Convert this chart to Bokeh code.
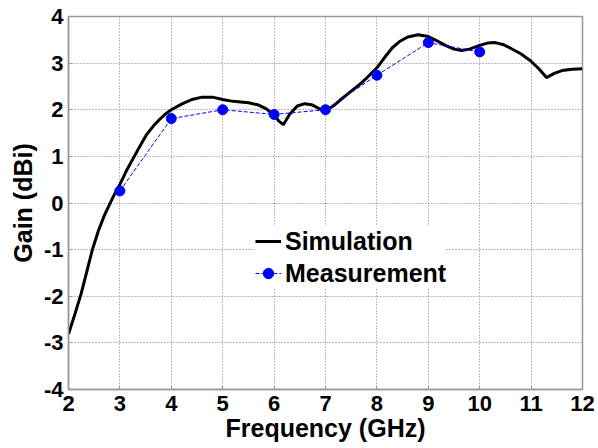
from bokeh.plotting import figure
from bokeh.models import Range1d, FixedTicker, Legend, LegendItem
from bokeh.embed import file_html
from bokeh.resources import INLINE

sim_freq = [2.0, 2.12, 2.245, 2.35, 2.46, 2.58, 2.7, 2.82, 2.9, 3.0, 3.14, 3.28,
            3.4, 3.52, 3.65, 3.78, 3.9, 4.0, 4.2, 4.4, 4.6, 4.8, 5.0, 5.2, 5.5, 5.7,
            5.85, 6.0, 6.1, 6.18, 6.3, 6.45, 6.6, 6.75, 6.9, 7.0, 7.15, 7.3, 7.5,
            7.65, 7.8, 8.0, 8.15, 8.3, 8.45, 8.6, 8.8, 9.0, 9.15, 9.33, 9.5, 9.65,
            9.8, 10.0, 10.15, 10.3, 10.45, 10.6, 10.8, 11.0, 11.15, 11.3, 11.45,
            11.6, 11.8, 12.0]
sim_gain = [-2.81, -2.4, -1.95, -1.5, -1.02, -0.6, -0.26, 0.02, 0.2, 0.4,
            0.72, 1.0, 1.24, 1.47, 1.65, 1.80, 1.92, 2.0, 2.12, 2.22, 2.27, 2.27, 2.22,
            2.18, 2.15, 2.10, 2.02, 1.88, 1.75, 1.68, 1.9, 2.08, 2.13, 2.1, 2.01, 1.98,
            2.08, 2.22, 2.4, 2.53, 2.68, 2.9, 3.12, 3.33, 3.47, 3.56, 3.61, 3.57, 3.49,
            3.38, 3.3, 3.27, 3.3, 3.38, 3.43, 3.44, 3.4, 3.32, 3.2, 3.04, 2.88, 2.69,
            2.78, 2.84, 2.87, 2.88]

meas_freq = [3, 4, 5, 6, 7, 8, 9, 10]
meas_gain = [0.26, 1.81, 2.0, 1.9, 2.0, 2.74, 3.44, 3.24]

x_ticks = [2, 3, 4, 5, 6, 7, 8, 9, 10, 11, 12]
y_ticks = [-4, -3, -2, -1, 0, 1, 2, 3, 4]
y_tick_labels = ["-4", "-3", "-2", "-1", "0", "1", "2", "3", "4"]

FONT = "Liberation Sans"

p = figure(width=598, height=448, output_backend="svg", toolbar_location=None,
           x_range=Range1d(2, 12), y_range=Range1d(-4, 4),
           min_border_left=68, min_border_right=16, min_border_top=16,
           min_border_bottom=59)
p.background_fill_color = "white"
p.border_fill_color = "white"
p.outline_line_color = "#999999"
p.outline_line_width = 1.5

for ax in (p.xaxis[0], p.yaxis[0]):
    ax.axis_line_color = "#999999"
    ax.axis_line_width = 1.5
    ax.major_tick_in = 4
    ax.major_tick_out = 0
    ax.minor_tick_in = 0
    ax.minor_tick_out = 0
    ax.major_tick_line_color = "#999999"
    ax.major_label_text_font = FONT
    ax.major_label_text_font_style = "bold"
    ax.major_label_text_font_size = "22px"
    ax.major_label_text_color = "black"
    ax.axis_label_text_font = FONT
    ax.axis_label_text_font_style = "bold"
    ax.axis_label_text_font_size = "25px"
    ax.axis_label_text_color = "black"

p.xaxis.ticker = FixedTicker(ticks=x_ticks)
p.yaxis.ticker = FixedTicker(ticks=y_ticks)
p.yaxis.major_label_overrides = {t: s for t, s in zip(y_ticks, y_tick_labels)}
p.xaxis.axis_label = "Frequency (GHz)"
p.yaxis.axis_label = "Gain (dBi)"
p.xaxis.major_label_standoff = 6
p.yaxis.major_label_standoff = 5
p.xaxis.axis_label_standoff = 0
p.yaxis.axis_label_standoff = 4

for g in (p.xgrid[0], p.ygrid[0]):
    g.grid_line_color = "#777777"
    g.grid_line_dash = "1 2"
    g.grid_line_width = 1

sim = p.line(sim_freq, sim_gain, line_color="black", line_width=3)
mline = p.line(meas_freq, meas_gain, line_color="#0000ff", line_width=1, line_dash="4 2")
mpts = p.scatter(meas_freq, meas_gain, marker="circle", size=10,
                 fill_color="#0000ff", line_color="#0000ff")

legend = Legend(items=[LegendItem(label="Simulation", renderers=[sim]),
                       LegendItem(label="Measurement", renderers=[mline, mpts])],
                location=(187, 101))
legend.label_text_font = FONT
legend.label_text_font_style = "bold"
legend.label_text_font_size = "25px"
legend.label_text_color = "black"
legend.border_line_color = None
legend.background_fill_color = "white"
legend.background_fill_alpha = 1.0
legend.glyph_width = 26
legend.glyph_height = 30
legend.label_height = 30
legend.label_standoff = 4
legend.spacing = 2
legend.padding = 4
legend.margin = 0
p.add_layout(legend, "center")

open("out.html", "w").write(file_html(p, INLINE))
